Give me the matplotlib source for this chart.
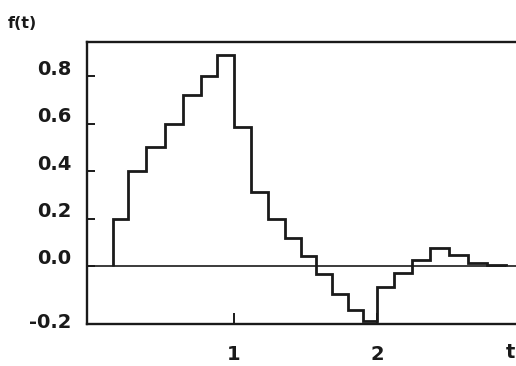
import matplotlib
matplotlib.use("Agg")
import matplotlib.pyplot as plt
from matplotlib.transforms import ScaledTranslation

# Step edges (t) and levels f(t)
edges = [0.152, 0.261, 0.385, 0.517, 0.641, 0.769, 0.879, 1.002, 1.119, 1.240,
         1.357, 1.469, 1.573, 1.683, 1.794, 1.901, 1.998, 2.114, 2.243, 2.366,
         2.503, 2.632, 2.769, 2.902]
levels = [0.20, 0.40, 0.50, 0.60, 0.72, 0.80, 0.89, 0.585, 0.31, 0.20,
          0.12, 0.042, -0.034, -0.118, -0.186, -0.232, -0.087, -0.03, 0.025, 0.075,
          0.046, 0.014, 0.005]

ytick_vals = [-0.2, 0.0, 0.2, 0.4, 0.6, 0.8]
ytick_labels = ["-0.2", "0.0", "0.2", "0.4", "0.6", "0.8"]
xtick_vals = [1, 2]
xtick_labels = ["1", "2"]

plt.rcParams['font.family'] = ['DejaVu Sans']

fig = plt.figure(figsize=(5.16, 3.66), dpi=100)
ax = fig.add_axes([87/516, 42/366, (516-87)/516, (324-42)/366])

col = "#1a1a1a"
ax.axhline(0, color=col, lw=1.2, zorder=1)
ax.stairs(levels, edges, baseline=0, fill=False, color=col, lw=2.0, zorder=2)

ax.set_xlim(-0.028, 2.97)
ax.set_ylim(-0.245, 0.945)

for s in ['left', 'bottom', 'top']:
    ax.spines[s].set_linewidth(1.7)
    ax.spines[s].set_color(col)
ax.spines['right'].set_visible(False)

ax.set_yticks(ytick_vals)
ax.set_yticklabels(ytick_labels, fontsize=14, fontweight='bold')
ax.set_xticks(xtick_vals)
ax.set_xticklabels(xtick_labels, fontsize=14, fontweight='bold')
ax.tick_params(axis='y', direction='in', length=6, width=1.4, pad=11, colors=col)
ax.tick_params(axis='x', direction='in', length=8, width=1.4, pad=15, colors=col)

# shift y labels up slightly as in reference
for val, lab, tk in zip(ytick_vals, ax.get_yticklabels(), ax.yaxis.get_major_ticks()):
    if val < 0:
        off = ScaledTranslation(0, -7.5/100, fig.dpi_scale_trans)
        tk.tick1line.set_visible(False)
    else:
        off = ScaledTranslation(0, 9/100, fig.dpi_scale_trans)
    lab.set_transform(lab.get_transform() + off)

fig.text(510/516, 1 - 352/366, "t", fontsize=14, fontweight='bold', ha='center', va='center', color=col)
fig.text(22/516, 1 - 24/366, "f(t)", fontsize=11.5, fontweight='bold', ha='center', va='center', color=col)

fig.savefig("out.png", dpi=100)
